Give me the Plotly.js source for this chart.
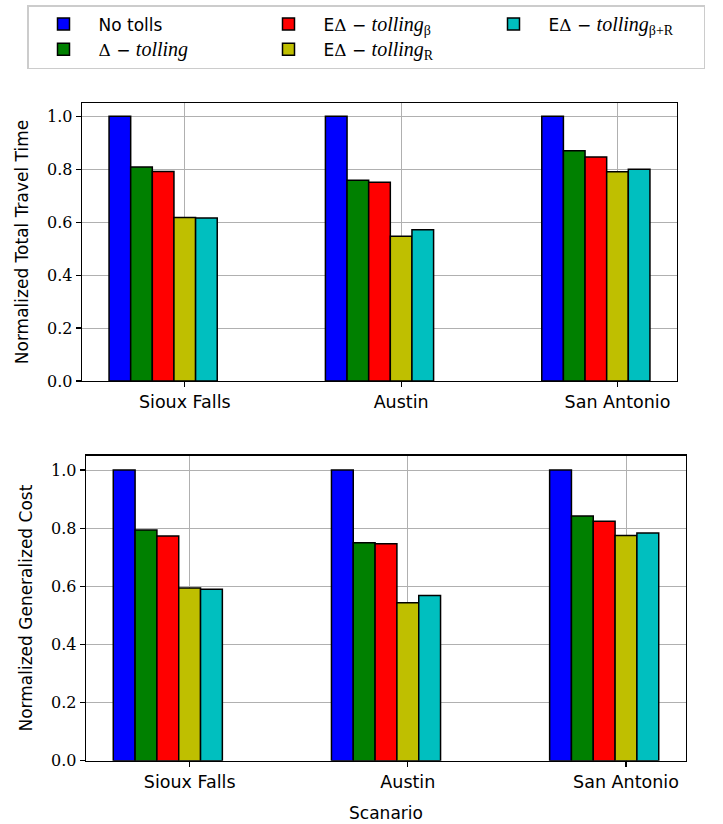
<!DOCTYPE html>
<html>
<head>
<meta charset="utf-8">
<script src="https://cdn.plot.ly/plotly-3.0.1.min.js"></script>
<style>html,body{margin:0;padding:0;background:#fff;}</style>
</head>
<body>
<div id="chart" style="width:723px;height:824px;"></div>
<script>
// ---- data ----
const scenarios = ["Sioux Falls", "Austin", "San Antonio"];
const seriesNames = [
  "No tolls",
  "Δ − <i>tolling</i>",
  "EΔ − <i>tolling</i><sub>β</sub>",
  "EΔ − <i>tolling</i><sub>R</sub>",
  "EΔ − <i>tolling</i><sub>β+R</sub>"
];
const seriesColors = ["#0000ff", "#008000", "#ff0000", "#bfbf00", "#00bfbf"];
// Normalized Total Travel Time
const ttNoTolls   = [1.000, 1.000, 1.000];
const ttDelta     = [0.808, 0.758, 0.870];
const ttEBeta     = [0.791, 0.751, 0.846];
const ttER        = [0.618, 0.547, 0.790];
const ttEBetaR    = [0.616, 0.571, 0.800];
// Normalized Generalized Cost
const gcNoTolls   = [1.000, 1.000, 1.000];
const gcDelta     = [0.794, 0.750, 0.842];
const gcEBeta     = [0.773, 0.746, 0.824];
const gcER        = [0.594, 0.543, 0.775];
const gcEBetaR    = [0.590, 0.568, 0.783];

const ttSeries = [ttNoTolls, ttDelta, ttEBeta, ttER, ttEBetaR];
const gcSeries = [gcNoTolls, gcDelta, gcEBeta, gcER, gcEBetaR];

// ---- build ----
const xIdx = scenarios.map((_, i) => i);
const barW = 0.1;
const legendRanks = [1, 4, 2, 5, 3]; // column-major order like the reference

function legendLabel(s) {
  if (s === "No tolls") return s;
  return s.replace(/Δ − <i>tolling<\/i>(<sub>[^<]*<\/sub>)?/, function (m, sub) {
    return "<span style=\"font-family:DejaVu Serif\">Δ</span> − " +
      "<span style=\"font-family:Liberation Serif;font-size:20px\"><i>tolling</i>" + (sub || "") + "</span>";
  });
}

const traces = [];
ttSeries.forEach((vals, k) => {
  traces.push({
    type: "bar", x: xIdx, y: vals, xaxis: "x", yaxis: "y",
    name: legendLabel(seriesNames[k]), legendgroup: "s" + k, legendrank: legendRanks[k],
    width: barW, offset: (k - 3.5) * barW,
    marker: {color: seriesColors[k], line: {color: "#000", width: 1.5}},
    hoverinfo: "skip"
  });
});
gcSeries.forEach((vals, k) => {
  traces.push({
    type: "bar", x: xIdx, y: vals, xaxis: "x2", yaxis: "y2",
    name: legendLabel(seriesNames[k]), legendgroup: "s" + k, showlegend: false,
    width: barW, offset: (k - 3.5) * barW,
    marker: {color: seriesColors[k], line: {color: "#000", width: 1.5}},
    hoverinfo: "skip"
  });
});

const W = 723, H = 824;
const sansFont = {family: "DejaVu Sans", size: 17.5, color: "#000"};
const serifFont = {family: "DejaVu Serif", size: 16, color: "#000"};
const titleFont = {family: "DejaVu Sans", size: 17, color: "#000"};

function xAx(left, right, anchor, extra) {
  return Object.assign({
    domain: [left / W, right / W], anchor: anchor,
    range: [-0.475, 2.275], tickvals: xIdx, ticktext: scenarios,
    showgrid: true, gridcolor: "#b0b0b0", gridwidth: 1,
    showline: true, mirror: true, linecolor: "#000", linewidth: 1.3,
    ticks: "outside", ticklen: 5, tickcolor: "#000", tickwidth: 1.2,
    tickfont: sansFont, zeroline: false, fixedrange: true
  }, extra || {});
}
function yAx(top, bottom, anchor, title) {
  return {
    domain: [(H - bottom) / H, (H - top) / H], anchor: anchor,
    range: [0, 1.05], dtick: 0.2, tick0: 0, tickformat: ".1f",
    showgrid: true, gridcolor: "#b0b0b0", gridwidth: 1,
    showline: true, mirror: true, linecolor: "#000", linewidth: 1.3,
    ticks: "outside", ticklen: 5, tickcolor: "#000", tickwidth: 1.2,
    tickfont: serifFont, zeroline: false, fixedrange: true,
    title: {text: title, font: titleFont, standoff: 14}
  };
}

const layout = {
  width: W, height: H,
  margin: {l: 0, r: 0, t: 0, b: 0},
  paper_bgcolor: "#fff", plot_bgcolor: "#fff",
  barmode: "overlay",
  showlegend: true,
  legend: {
    orientation: "h", x: 27 / W, xanchor: "left", y: 1 - 5 / H, yanchor: "top",
    bordercolor: "#cccccc", borderwidth: 1.5, bgcolor: "#fff",
    font: {family: "DejaVu Sans", size: 17, color: "#000"},
    entrywidth: 150, entrywidthmode: "pixels", itemwidth: 60,
    traceorder: "normal"
  },
  xaxis: xAx(82, 677, "y"),
  yaxis: yAx(103, 381, "x", "Normalized Total Travel Time"),
  xaxis2: xAx(86, 686, "y2", {title: {text: "Scanario", font: titleFont, standoff: 16}}),
  yaxis2: yAx(455.5, 760.7, "x2", "Normalized Generalized Cost")
};

Plotly.newPlot("chart", traces, layout, {displayModeBar: false, staticPlot: true});
</script>
</body>
</html>
